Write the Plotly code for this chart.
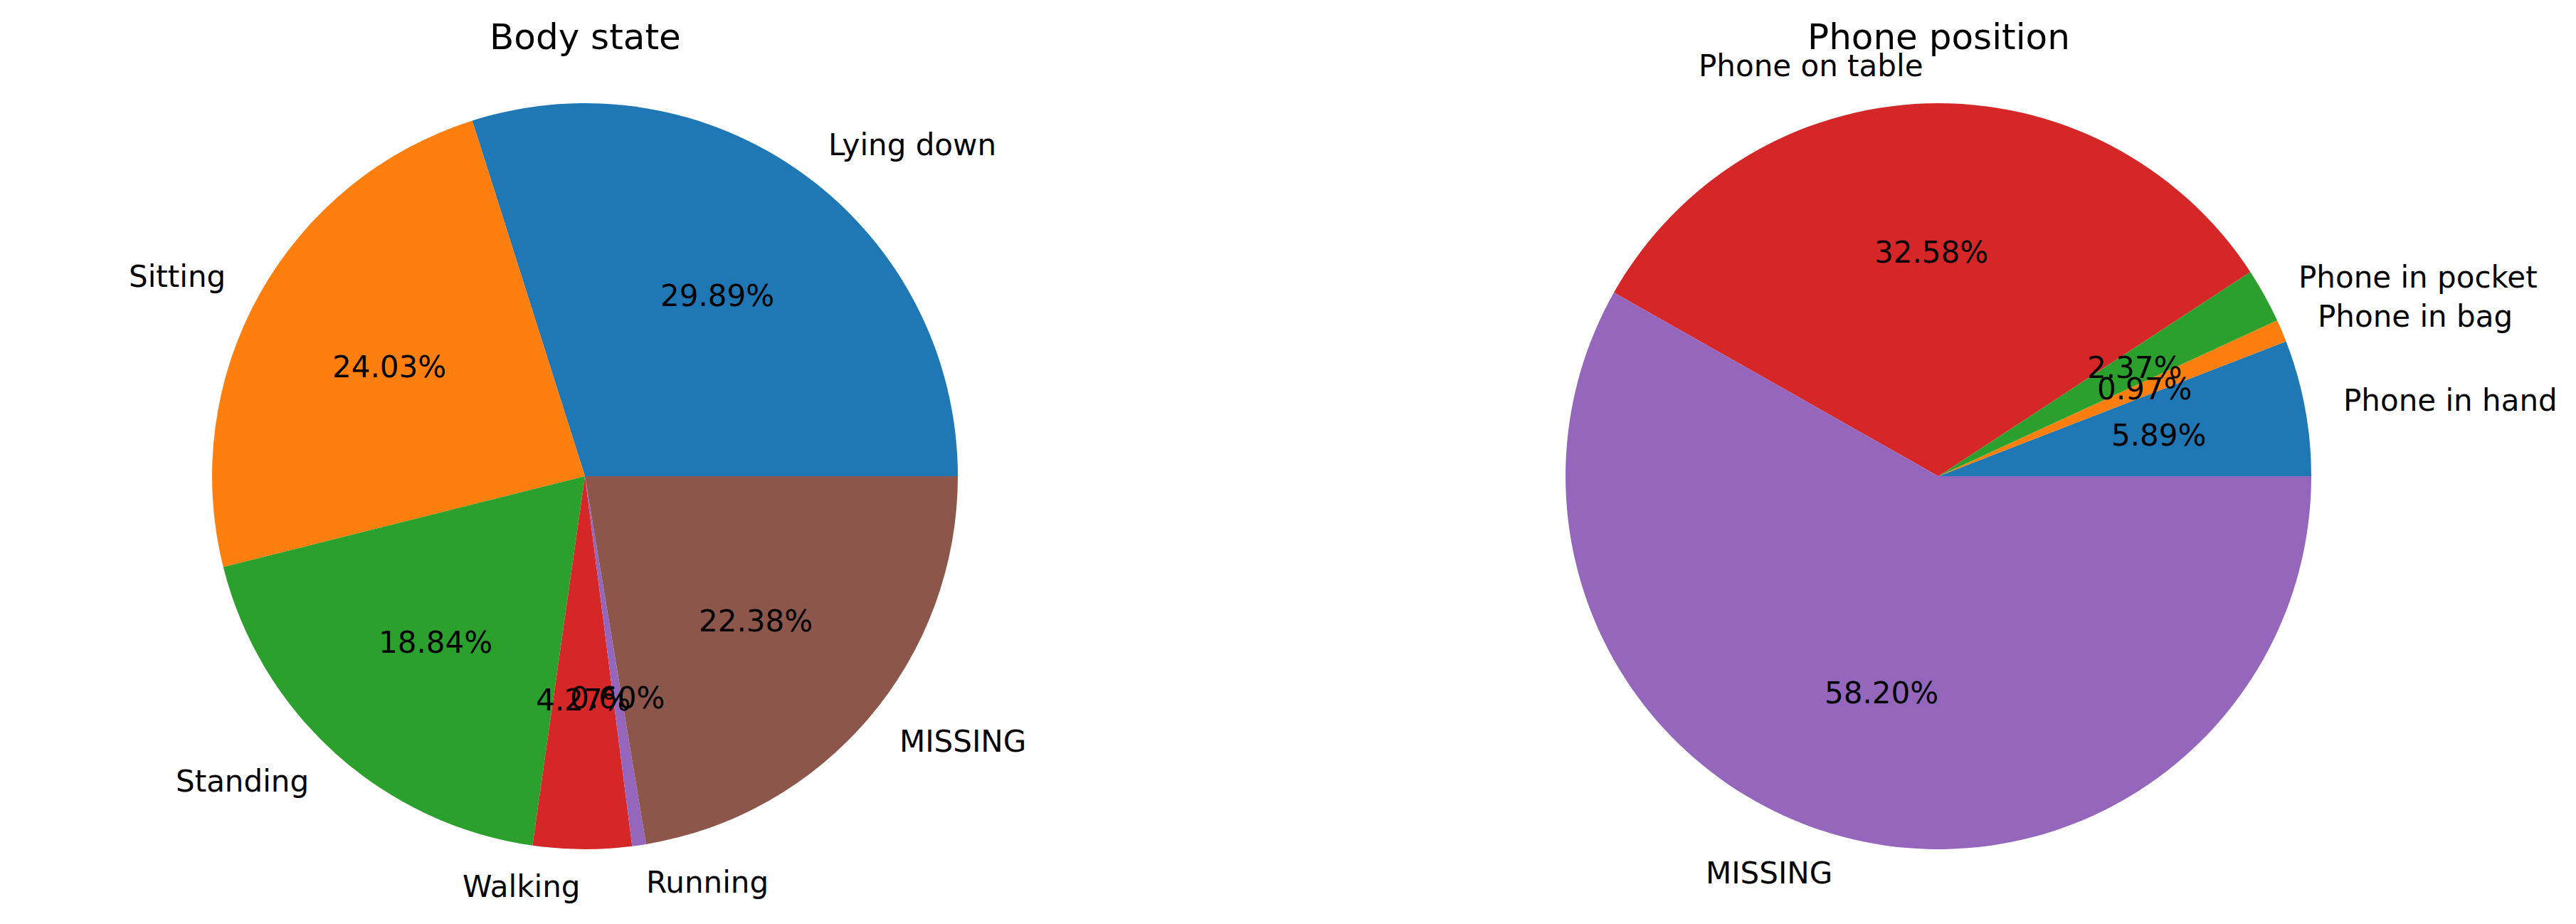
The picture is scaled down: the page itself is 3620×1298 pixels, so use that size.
import math
import plotly.graph_objects as go

# ---- data ----
body_labels = ["Lying down", "Sitting", "Standing", "Walking", "Running", "MISSING"]
body_values = [29.89, 24.03, 18.84, 4.27, 0.60, 22.38]
phone_labels = ["Phone in hand", "Phone in bag", "Phone in pocket", "Phone on table", "MISSING"]
phone_values = [5.89, 0.97, 2.37, 32.58, 58.20]
titles = ["Body state", "Phone position"]
palette = ["#1f77b4", "#ff7f0e", "#2ca02c", "#d62728", "#9467bd", "#8c564b"]

# ---- layout constants (pixels) ----
W, H = 3620, 1298
R = 524
centers = [(822, 669), (2724, 669)]
FONT = "DejaVu Sans"
LABEL_SIZE = 42
TITLE_SIZE = 50

fig = go.Figure()
annotations = []

for (labels, values, title, (cx, cy)) in zip(
    [body_labels, phone_labels], [body_values, phone_values], titles, centers
):
    total = sum(values)
    # plotly places the first slice ending at `rotation` when counterclockwise;
    # shift so that the first slice starts at 3 o'clock (matplotlib default)
    first_deg = 360.0 * values[0] / total
    fig.add_trace(go.Pie(
        labels=labels,
        values=values,
        sort=False,
        direction="counterclockwise",
        rotation=90 - first_deg,
        textinfo="none",
        hoverinfo="label+percent",
        showlegend=False,
        marker=dict(colors=palette[:len(values)], line=dict(width=0)),
        domain=dict(x=[(cx - R) / W, (cx + R) / W],
                    y=[(H - cy - R) / H, (H - cy + R) / H]),
    ))
    cum = 0.0
    for lab, v in zip(labels, values):
        theta = 2 * math.pi * (cum + v / 2) / total
        cum += v
        c, s = math.cos(theta), math.sin(theta)
        # outer label at 1.1 R
        lx = cx + 1.1 * R * c
        ly = cy - 1.1 * R * s
        annotations.append(dict(
            x=lx / W, y=1 - ly / H, xref="paper", yref="paper",
            text=lab, showarrow=False,
            xanchor="left" if c > 1e-9 else ("right" if c < -1e-9 else "center"),
            yanchor="middle",
            font=dict(family=FONT, size=LABEL_SIZE, color="black"),
        ))
        # percentage at 0.6 R
        px = cx + 0.6 * R * c
        py = cy - 0.6 * R * s
        annotations.append(dict(
            x=px / W, y=1 - py / H, xref="paper", yref="paper",
            text=f"{v:.2f}%", showarrow=False,
            xanchor="center", yanchor="middle",
            font=dict(family=FONT, size=LABEL_SIZE, color="black"),
        ))
    annotations.append(dict(
        x=cx / W, y=1 - 52 / H, xref="paper", yref="paper",
        text=title, showarrow=False, xanchor="center", yanchor="middle",
        font=dict(family=FONT, size=TITLE_SIZE, color="black"),
    ))

fig.update_layout(
    width=W, height=H,
    margin=dict(l=0, r=0, t=0, b=0),
    paper_bgcolor="white", plot_bgcolor="white",
    annotations=annotations,
    font=dict(family=FONT),
)

fig.write_html("out.html")
